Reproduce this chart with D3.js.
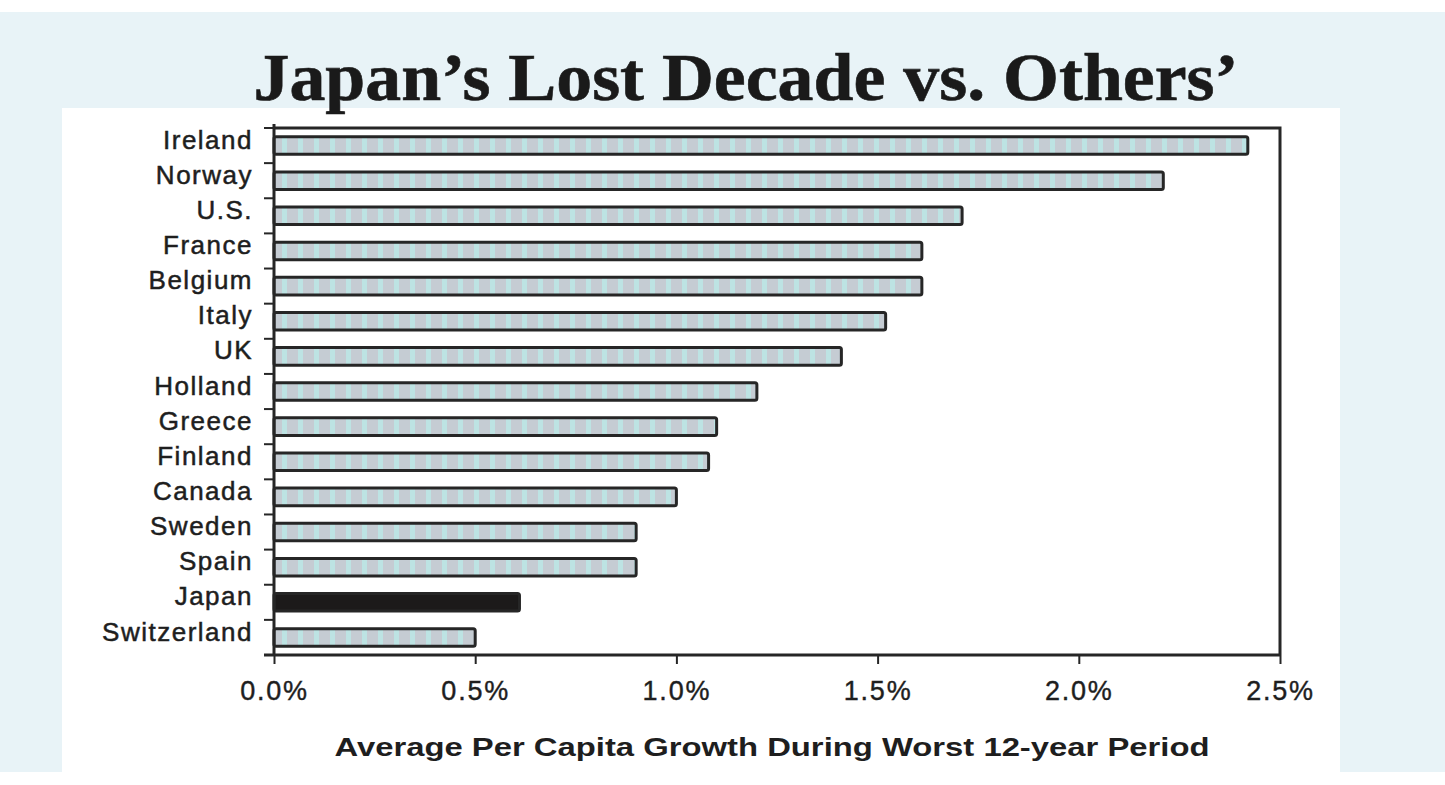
<!DOCTYPE html>
<html>
<head>
<meta charset="utf-8">
<script src="https://cdn.jsdelivr.net/npm/d3@7/dist/d3.min.js"></script>
<style>
  html, body { margin: 0; padding: 0; background: #ffffff; }
  svg { display: block; }
</style>
</head>
<body>
<svg id="chart" width="1445" height="785"></svg>
<script>
const categories = ["Ireland","Norway","U.S.","France","Belgium","Italy","UK","Holland","Greece","Finland","Canada","Sweden","Spain","Japan","Switzerland"];
const growth = [2.42,2.21,1.71,1.61,1.61,1.52,1.41,1.20,1.10,1.08,1.00,0.90,0.90,0.61,0.50];
const highlighted = ["Japan"];
const xTickValues = [0, 0.5, 1.0, 1.5, 2.0, 2.5];
const titleText = "Japan\u2019s Lost Decade vs. Others\u2019";
const xAxisTitle = "Average Per Capita Growth During Worst 12-year Period";

const data = categories.map((c, i) => ({ name: c, value: growth[i] }));

const svg = d3.select("#chart");
const W = 1445, H = 785;
const plot = { left: 274, right: 1280, top: 128, bottom: 655 };

// background (scanned page look)
svg.append("rect").attr("x", 0).attr("y", 0).attr("width", W).attr("height", H).attr("fill", "#ffffff");
svg.append("rect").attr("x", 0).attr("y", 12).attr("width", W).attr("height", 760).attr("fill", "#e8f3f7");
svg.append("rect").attr("x", 62).attr("y", 108).attr("width", 1278).attr("height", 677).attr("fill", "#ffffff");

// stripe pattern
const defs = svg.append("defs");
const pat = defs.append("pattern").attr("id", "stripes").attr("patternUnits", "userSpaceOnUse")
  .attr("width", 16).attr("height", 10);
pat.append("rect").attr("width", 16).attr("height", 10).attr("fill", "#c5ccd3");
pat.append("rect").attr("x", 10).attr("width", 5).attr("height", 10).attr("fill", "#bde3e3");

const x = d3.scaleLinear().domain([0, 2.5]).range([plot.left, plot.right]);
const y = d3.scaleBand().domain(categories).range([plot.top, plot.bottom]).paddingInner(0.5).paddingOuter(0.25);
const yOuter = d3.scaleBand().domain(categories).range([plot.top, plot.bottom]);

// title
svg.append("text").attr("x", 746).attr("y", 100)
  .attr("text-anchor", "middle")
  .attr("font-family", "'Liberation Serif', 'Times New Roman', serif")
  .attr("font-weight", "bold").attr("font-size", 68)
  .attr("fill", "#1a1a1a").attr("stroke", "#1a1a1a").attr("stroke-width", 0.6)
  .attr("textLength", 985).attr("lengthAdjust", "spacingAndGlyphs")
  .text(titleText);

// bars
svg.append("g").selectAll("rect").data(data).join("rect")
  .attr("x", x(0))
  .attr("y", d => y(d.name))
  .attr("width", d => x(d.value) - x(0))
  .attr("height", y.bandwidth())
  .attr("rx", 2)
  .attr("fill", d => highlighted.includes(d.name) ? "#1c1a1a" : "url(#stripes)")
  .attr("stroke", "#262626").attr("stroke-width", 3);

// frame (top & right)
svg.append("path")
  .attr("d", `M${plot.left},${plot.top}H${plot.right}V${plot.bottom}`)
  .attr("fill", "none").attr("stroke", "#262626").attr("stroke-width", 3);

// y axis line and boundary ticks
const boundaries = categories.map(c => yOuter(c)).concat([plot.bottom]);
svg.append("line").attr("x1", plot.left).attr("x2", plot.left).attr("y1", plot.top - 4).attr("y2", plot.bottom)
  .attr("stroke", "#262626").attr("stroke-width", 3);
svg.append("g").selectAll("line").data(boundaries).join("line")
  .attr("x1", plot.left - 10).attr("x2", plot.left)
  .attr("y1", d => d).attr("y2", d => d)
  .attr("stroke", "#262626").attr("stroke-width", 2);

// category labels
svg.append("g").selectAll("text").data(categories).join("text")
  .attr("x", 253)
  .attr("y", d => y(d) + y.bandwidth() / 2 - 6)
  .attr("dy", "0.35em")
  .attr("text-anchor", "end")
  .attr("font-family", "'Liberation Sans', Arial, sans-serif")
  .attr("font-size", 26).attr("letter-spacing", 1.5)
  .attr("fill", "#1e1e1e").attr("stroke", "#1e1e1e").attr("stroke-width", 0.5)
  .text(d => d);

// x axis
const xAxis = d3.axisBottom(x).tickValues(xTickValues).tickSize(9).tickPadding(17)
  .tickFormat(d => d.toFixed(1) + "%");
const gx = svg.append("g").attr("transform", `translate(0,${plot.bottom})`).call(xAxis);
gx.select(".domain").attr("stroke", "#262626").attr("stroke-width", 3)
  .attr("d", `M${plot.left - 10},0H${plot.right}`);
gx.selectAll(".tick line").attr("stroke", "#262626").attr("stroke-width", 2);
gx.selectAll(".tick text")
  .attr("font-family", "'Liberation Sans', Arial, sans-serif")
  .attr("font-size", 27).attr("letter-spacing", 1.8)
  .attr("fill", "#1e1e1e").attr("stroke", "#1e1e1e").attr("stroke-width", 0.4);

// x axis title
svg.append("text").attr("x", 772).attr("y", 756)
  .attr("text-anchor", "middle")
  .attr("font-family", "'Liberation Sans', Arial, sans-serif")
  .attr("font-weight", "bold").attr("font-size", 25)
  .attr("fill", "#1e1e1e")
  .attr("textLength", 875).attr("lengthAdjust", "spacingAndGlyphs")
  .text(xAxisTitle);
</script>
</body>
</html>
